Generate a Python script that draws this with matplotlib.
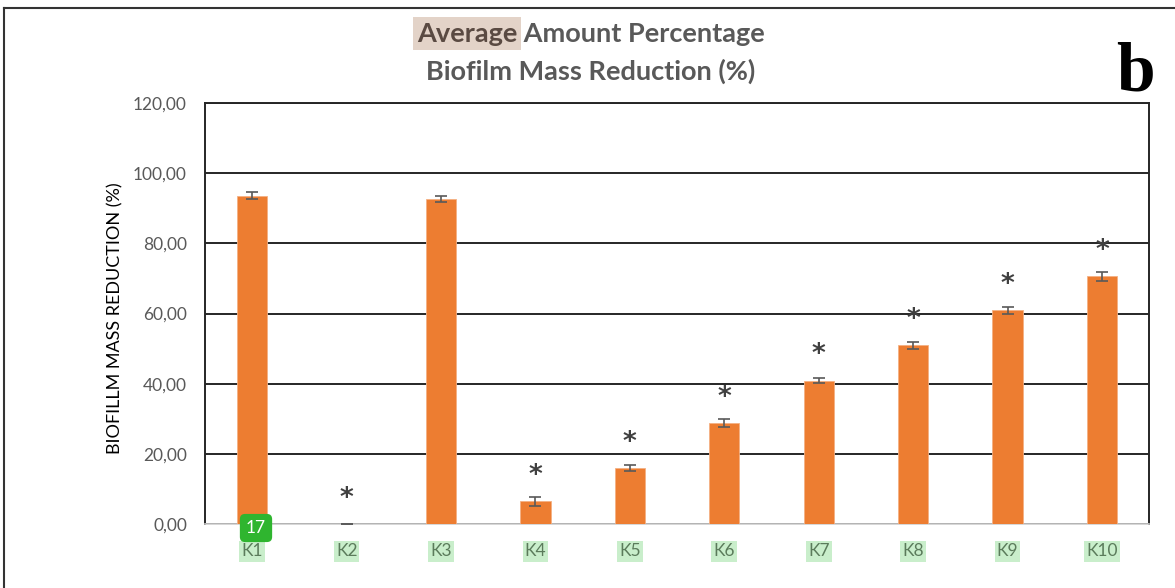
import matplotlib
matplotlib.use("Agg")
import matplotlib.pyplot as plt
from matplotlib.lines import Line2D
from matplotlib.ticker import FuncFormatter

# bar data
categories = ["K1", "K2", "K3", "K4", "K5", "K6", "K7", "K8", "K9", "K10"]
reduction = [93.5, 0.0, 92.7, 6.5, 15.9, 28.7, 40.9, 50.9, 60.9, 70.6]
errors = [1.0, 0.0, 0.8, 1.3, 0.8, 1.1, 0.8, 1.0, 1.0, 1.2]
significant = [False, True, False, True, True, True, True, True, True, True]
y_ticks = [0, 20, 40, 60, 80, 100, 120]

plt.rcParams['font.family'] = ['Lato', 'DejaVu Sans']

fig = plt.figure(figsize=(11.75, 5.88), dpi=100)
ax = fig.add_axes([0.1745, 0.1088, 0.8035, 0.7160])

x = list(range(len(categories)))
ax.bar(x, reduction, width=0.32, color="#ed7d31", edgecolor="#f4b183", linewidth=0.6, zorder=3)
ax.errorbar(x, reduction, yerr=errors, fmt="none", ecolor="#595959",
            elinewidth=1.2, capsize=4, capthick=1.2, zorder=4)

# significance marks
for xi, val, sig in zip(x, reduction, significant):
    if sig:
        ax.text(xi, val + 7.2, "*", ha="center", va="center", fontsize=19,
                fontweight="bold", color="#404040", family="DejaVu Sans", zorder=5)

ax.set_xlim(-0.5, len(categories) - 0.5)
ax.set_ylim(0, 120)
ax.set_yticks(y_ticks)
ax.yaxis.set_major_formatter(FuncFormatter(lambda v, p: f"{v:.2f}".replace(".", ",")))
ax.set_xticks(x)
ax.set_xticklabels(categories)
ax.grid(axis="y", color="#262626", linewidth=1.4, zorder=0)
ax.tick_params(axis="both", length=0, labelsize=12.5, labelcolor="#595959")
ax.tick_params(axis="y", pad=13)
ax.tick_params(axis="x", pad=14)
for lbl in ax.get_xticklabels():
    lbl.set_color("#5b7b5b")
    lbl.set_bbox(dict(facecolor="#c9eecb", edgecolor="none", pad=1.5))

for side in ["left", "right", "top"]:
    ax.spines[side].set_color("#262626")
    ax.spines[side].set_linewidth(1.4)
ax.spines["bottom"].set_color("#d0d0d0")
ax.spines["bottom"].set_linewidth(1.2)

ax.set_ylabel("BIOFILLM MASS REDUCTION (%)", fontsize=13, color="#000000")
ax.yaxis.set_label_coords(-0.086, 0.489)

# title, first word highlighted
renderer = fig.canvas.get_renderer()
t1 = fig.text(0, 0.943, "Average", fontsize=19.5, fontweight="bold", color="#5a4a42",
              ha="left", va="center",
              bbox=dict(facecolor="#e3d3c8", edgecolor="none", pad=3))
t2 = fig.text(0, 0.943, " Amount Percentage", fontsize=19.5, fontweight="bold",
              color="#595959", ha="left", va="center")
w1 = t1.get_window_extent(renderer).width
w2 = t2.get_window_extent(renderer).width
W = fig.bbox.width
start = 0.503 - (w1 + w2) / 2 / W
t1.set_x(start)
t2.set_x(start + w1 / W)
fig.text(0.503, 0.878, "Biofilm Mass Reduction (%)", fontsize=19.5, fontweight="bold",
         color="#595959", ha="center", va="center")

# panel letter
fig.text(0.966, 0.875, "b", fontsize=50, fontweight="bold", family="Liberation Serif",
         ha="center", va="center", color="#000000")

# sample badge
fig.text(256 / 1175, 1 - 528 / 588, "17", fontsize=12.5, color="white", ha="center",
         va="center", bbox=dict(boxstyle="round,pad=0.35,rounding_size=0.3",
                                facecolor="#2fb52f", edgecolor="none"))

# frame around the figure
fig.add_artist(Line2D([4 / 1175, 4 / 1175], [0, 1 - 8 / 588], color="#333333", linewidth=1.5))
fig.add_artist(Line2D([4 / 1175, 1], [1 - 8 / 588, 1 - 8 / 588], color="#333333", linewidth=1.5))

fig.savefig("out.png", dpi=100)
